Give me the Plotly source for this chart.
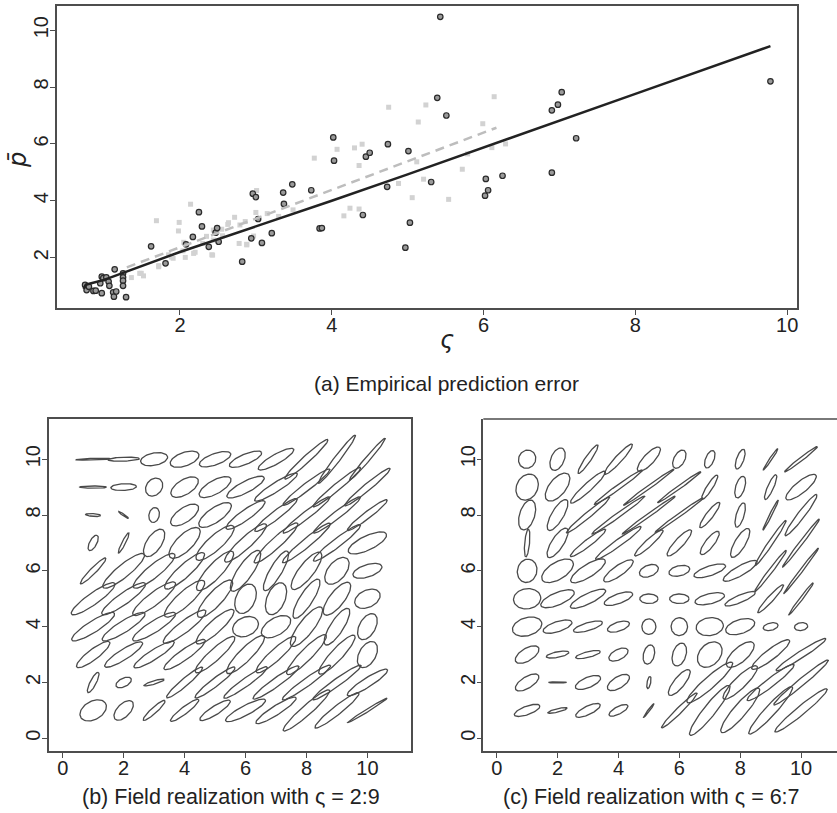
import numpy as np
import plotly.graph_objects as go

# ---------------- data: panel (a) ----------------
dark_x = [0.75,0.77,0.80,0.86,0.89,0.97,0.99,0.95,1.03,1.06,1.07,0.97,1.12,1.13,1.16,1.25,1.25,1.25,1.25,1.29,
          1.14,1.62,1.81,2.08,2.17,2.25,2.29,2.38,2.47,2.49,2.51,2.82,2.94,2.96,3.00,3.03,3.08,3.21,3.36,3.37,
          3.48,3.73,3.84,3.87,4.02,4.03,4.41,4.45,4.50,4.73,4.74,4.97,5.01,5.03,5.31,5.39,5.43,5.51,6.02,6.03,
          6.06,6.25,6.90,6.90,6.98,7.03,7.22,9.78]
dark_y = [1.04,0.86,0.98,0.83,0.84,1.33,1.28,1.10,1.31,1.16,1.01,0.75,0.78,0.63,0.81,1.45,1.31,1.19,1.01,0.61,
          1.59,2.40,1.80,2.47,2.73,3.60,3.10,2.38,2.88,3.04,2.56,1.86,2.68,4.25,4.13,3.36,2.52,2.86,4.29,3.89,
          4.58,4.37,3.03,3.04,6.23,5.41,3.50,5.55,5.69,4.49,5.99,2.35,5.75,3.23,4.66,7.62,10.47,7.00,4.18,4.77,
          4.37,4.88,4.99,7.18,7.38,7.82,6.20,8.20]
light_x = [4.75,5.14,5.24,6.14,5.99,6.11,6.29,5.79,5.72,5.21,5.54,5.06,4.88,5.12,
           3.77,4.07,4.30,4.40,4.36,4.36,4.16,4.24,
           3.01,3.00,2.97,2.88,2.78,2.72,2.63,3.49,
           2.14,1.99,1.69,2.05,2.04,1.89,1.72,2.42,2.20,
           1.52,1.47,1.36,2.44,2.56,1.98,2.64,2.79,2.86,2.44,2.07,2.18,2.43,1.91,1.72,1.49,2.88,
           3.15,3.30,2.35,2.55,1.85,2.30]
light_y = [7.29,6.77,7.37,7.66,6.71,5.87,6.00,5.65,5.11,4.76,4.05,4.11,4.61,5.37,
           5.50,5.81,5.86,5.99,5.24,3.71,3.47,3.74,
           4.36,3.59,2.76,2.47,2.50,3.42,3.17,3.68,
           3.88,3.24,3.30,2.54,2.24,2.02,1.72,2.10,2.19,
           1.36,1.45,1.30,2.97,2.77,2.94,3.23,3.15,3.27,2.62,2.01,2.15,2.09,1.98,1.68,1.45,2.45,
           3.55,3.45,2.75,3.00,2.10,2.50]
fit_x = [0.73,0.76,1.0,2.0,3.0,4.0,5.0,6.0,7.0,8.0,9.78]
fit_y = [0.90,1.05,1.22,2.20,3.10,4.00,4.93,5.88,6.82,7.76,9.44]
fit2_x = [1.30,6.17]
fit2_y = [1.66,6.57]
top_xticks = [2, 4, 6, 8, 10]
top_yticks = [2, 4, 6, 8, 10]

# ---------------- data: ellipse fields ----------------
grid = [1, 2, 3, 4, 5, 6, 7, 8, 9, 10]
field_ticks = [0, 2, 4, 6, 8, 10]

# rows: y = 1 (bottom) ... 10 (top); columns x = 1 ... 10
b_major = [
    [0.48,0.42,0.50,0.60,0.60,0.75,0.80,1.05,0.95,0.78],
    [0.40,0.28,0.35,0.80,0.85,0.90,0.95,1.00,1.00,0.80],
    [0.70,0.75,0.80,0.85,0.90,0.90,0.90,0.95,0.90,0.50],
    [0.85,0.85,0.85,0.90,0.85,0.45,0.55,0.85,0.75,0.50],
    [0.90,0.90,0.90,0.90,0.85,0.55,0.60,0.80,0.70,0.45],
    [0.62,0.90,0.90,0.90,0.90,0.85,0.80,0.80,0.55,0.50],
    [0.30,0.40,0.55,0.70,0.85,0.95,1.00,1.05,1.00,0.70],
    [0.25,0.20,0.27,0.55,0.65,0.80,0.90,1.00,1.00,0.85],
    [0.44,0.42,0.34,0.52,0.60,0.70,0.85,1.00,1.05,1.00],
    [0.57,0.52,0.45,0.50,0.55,0.58,0.68,1.00,1.05,0.95],
]
b_minor = [
    [0.32,0.22,0.10,0.12,0.15,0.17,0.16,0.17,0.15,0.05],
    [0.10,0.15,0.06,0.13,0.14,0.14,0.15,0.14,0.13,0.16],
    [0.18,0.18,0.17,0.18,0.20,0.22,0.20,0.20,0.20,0.28],
    [0.20,0.20,0.20,0.20,0.22,0.33,0.30,0.25,0.22,0.27],
    [0.20,0.20,0.22,0.25,0.25,0.32,0.30,0.22,0.25,0.30],
    [0.10,0.22,0.22,0.22,0.25,0.25,0.20,0.25,0.30,0.22],
    [0.12,0.06,0.25,0.28,0.25,0.20,0.18,0.15,0.15,0.25],
    [0.05,0.03,0.17,0.25,0.25,0.18,0.15,0.13,0.13,0.12],
    [0.04,0.12,0.26,0.26,0.24,0.20,0.16,0.13,0.12,0.12],
    [0.03,0.07,0.22,0.24,0.20,0.18,0.17,0.12,0.10,0.08],
]
b_angle = [
    [35,50,45,40,35,30,35,44,41,34],
    [65,30,18,43,40,38,38,38,38,35],
    [40,35,35,38,45,48,45,48,50,65],
    [35,35,35,40,45,30,35,55,60,65],
    [38,38,40,45,50,70,70,60,55,30],
    [48,42,42,45,50,58,62,55,55,20],
    [65,65,60,48,45,45,45,42,40,28],
    [-5,-38,80,38,38,38,40,40,40,40],
    [0,3,60,35,32,30,35,40,42,42],
    [2,2,12,22,22,25,32,45,55,52],
]

c_major = [
    [0.45,0.33,0.45,0.35,0.30,0.85,1.10,1.00,1.10,1.15],
    [0.45,0.30,0.45,0.42,0.22,0.56,1.03,0.80,1.00,1.20],
    [0.45,0.38,0.42,0.35,0.35,0.42,0.50,0.60,0.80,1.00],
    [0.50,0.50,0.50,0.38,0.28,0.32,0.45,0.50,0.25,0.22],
    [0.45,0.60,0.65,0.50,0.30,0.32,0.50,0.55,0.65,0.70],
    [0.42,0.60,0.68,0.60,0.33,0.35,0.55,0.65,0.90,1.00],
    [0.50,0.60,0.75,0.95,0.65,0.60,0.50,0.58,0.95,1.05],
    [0.55,0.62,0.95,1.10,1.10,1.00,0.55,0.45,0.60,0.90],
    [0.48,0.58,0.80,1.00,1.05,0.90,0.50,0.40,0.48,0.65],
    [0.33,0.42,0.60,0.70,0.55,0.35,0.33,0.37,0.45,0.70],
]
c_minor = [
    [0.15,0.06,0.15,0.13,0.03,0.10,0.20,0.22,0.18,0.15],
    [0.20,0.02,0.18,0.20,0.06,0.18,0.20,0.20,0.15,0.12],
    [0.22,0.10,0.10,0.18,0.18,0.22,0.35,0.25,0.18,0.12],
    [0.32,0.18,0.14,0.16,0.23,0.27,0.32,0.25,0.13,0.14],
    [0.36,0.22,0.18,0.17,0.17,0.17,0.18,0.13,0.10,0.05],
    [0.32,0.30,0.22,0.18,0.20,0.18,0.17,0.17,0.07,0.05],
    [0.08,0.20,0.12,0.12,0.12,0.15,0.15,0.18,0.08,0.06],
    [0.25,0.20,0.10,0.08,0.06,0.06,0.12,0.13,0.04,0.12],
    [0.35,0.28,0.14,0.08,0.06,0.06,0.10,0.15,0.10,0.20],
    [0.28,0.22,0.10,0.12,0.18,0.18,0.14,0.12,0.04,0.06],
]
c_angle = [
    [22,15,28,30,55,47,54,52,50,42],
    [35,0,25,35,80,54,44,47,40,42],
    [35,12,15,30,78,75,55,45,40,35],
    [20,20,18,20,90,90,10,20,15,10],
    [10,25,28,22,0,0,15,25,50,55],
    [80,35,35,38,25,15,20,32,55,55],
    [85,60,40,38,45,50,55,62,58,55],
    [75,62,42,38,38,38,55,75,65,55],
    [70,55,45,38,38,38,60,75,68,42],
    [75,70,58,50,50,65,70,72,58,40],
]


def ellipse_trace(major, minor, angle, xa, ya):
    t = np.linspace(0, 2 * np.pi, 73)
    xs, ys = [], []
    for j, cy in enumerate(grid):
        for i, cx in enumerate(grid):
            a, b, th = major[j][i], minor[j][i], np.radians(angle[j][i])
            c, s = np.cos(th), np.sin(th)
            xs += list(cx + a * np.cos(t) * c - b * np.sin(t) * s) + [None]
            ys += list(cy + a * np.cos(t) * s + b * np.sin(t) * c) + [None]
    return go.Scatter(x=xs, y=ys, mode="lines", xaxis=xa, yaxis=ya,
                      line=dict(color="#4a4a4a", width=1.3), hoverinfo="skip",
                      showlegend=False)


W, H = 837, 813
fig = go.Figure()

fig.add_trace(go.Scatter(x=light_x, y=light_y, mode="markers", xaxis="x", yaxis="y",
                         marker=dict(symbol="square", size=5, color="#d2d2d2"),
                         showlegend=False))
fig.add_trace(go.Scatter(x=dark_x, y=dark_y, mode="markers", xaxis="x", yaxis="y",
                         marker=dict(symbol="circle", size=5.5, color="#9a9a9a",
                                     line=dict(color="#2a2a2a", width=1.2)),
                         showlegend=False))
fig.add_trace(go.Scatter(x=fit2_x, y=fit2_y, mode="lines", xaxis="x", yaxis="y",
                         line=dict(color="#bdbdbd", width=2.5, dash="9px,6px"),
                         showlegend=False))
fig.add_trace(go.Scatter(x=fit_x, y=fit_y, mode="lines", xaxis="x", yaxis="y",
                         line=dict(color="#222222", width=2.5), showlegend=False))

fig.add_trace(ellipse_trace(b_major, b_minor, b_angle, "x2", "y2"))
fig.add_trace(ellipse_trace(c_major, c_minor, c_angle, "x3", "y3"))

font = dict(family="Liberation Sans, Arial, sans-serif", size=20, color="#222222")
axis_common = dict(showgrid=False, zeroline=False, showline=True,
                   linecolor="#4d4d4d", linewidth=1.5, ticks="outside", ticklen=5,
                   tickwidth=1.2, tickcolor="#4d4d4d", tickfont=font)
xstyle = dict(axis_common, ticklabelstandoff=-7)
ystyle = dict(axis_common, ticklabelstandoff=-6, tickangle=-90)


def dom_x(p0, p1):
    return [p0 / W, min(p1 / W, 1.0)]


def dom_y(top, bottom):
    return [1 - bottom / H, 1 - top / H]


fig.update_layout(
    width=W, height=H, margin=dict(l=0, r=0, t=0, b=0),
    paper_bgcolor="white", plot_bgcolor="white",
    xaxis=dict(domain=dom_x(57, 797), range=[0.38, 10.13], tickvals=top_xticks,
               anchor="y", mirror=True, **xstyle),
    yaxis=dict(domain=dom_y(6, 308), range=[0.23, 10.85], tickvals=top_yticks,
               anchor="x", mirror=True, **ystyle),
    xaxis2=dict(domain=dom_x(49, 411), range=[-0.45, 11.43], tickvals=field_ticks,
                anchor="y2", mirror=True, **xstyle),
    yaxis2=dict(domain=dom_y(419, 751), range=[-0.455, 11.44], tickvals=field_ticks,
                anchor="x2", mirror=True, **ystyle),
    xaxis3=dict(domain=dom_x(483.3, 837), range=[-0.44, 11.18], tickvals=field_ticks,
                anchor="y3", mirror=False, **xstyle),
    yaxis3=dict(domain=dom_y(419, 751), range=[-0.455, 11.44], tickvals=field_ticks,
                anchor="x3", mirror=False, **ystyle),
)

# top border of panel (c) only (its right border lies outside the picture)
fig.add_shape(type="line", xref="x3 domain", yref="y3 domain", x0=0, x1=1.01, y0=1, y1=1,
              line=dict(color="#4d4d4d", width=1.5))


def ann(text, px, py, size=20, angle=0, family=None):
    fig.add_annotation(text=text, x=px / W, y=1 - py / H, xref="paper", yref="paper",
                       showarrow=False, textangle=angle,
                       font=dict(family=family or font["family"], size=size, color="#222222"),
                       xanchor="center", yanchor="middle")


ann("<i>ς</i>", 447, 340, size=24, family="DejaVu Sans")
ann("<i>p̄</i>", 18, 160, size=24, angle=-90, family="DejaVu Sans")
ann("(a) Empirical prediction error", 446, 383, size=21)
ann("(b) Field realization with ς = 2:9", 231, 797, size=21.5)
ann("(c) Field realization with ς = 6:7", 651, 797, size=21.5)

fig.write_html("out.html")
